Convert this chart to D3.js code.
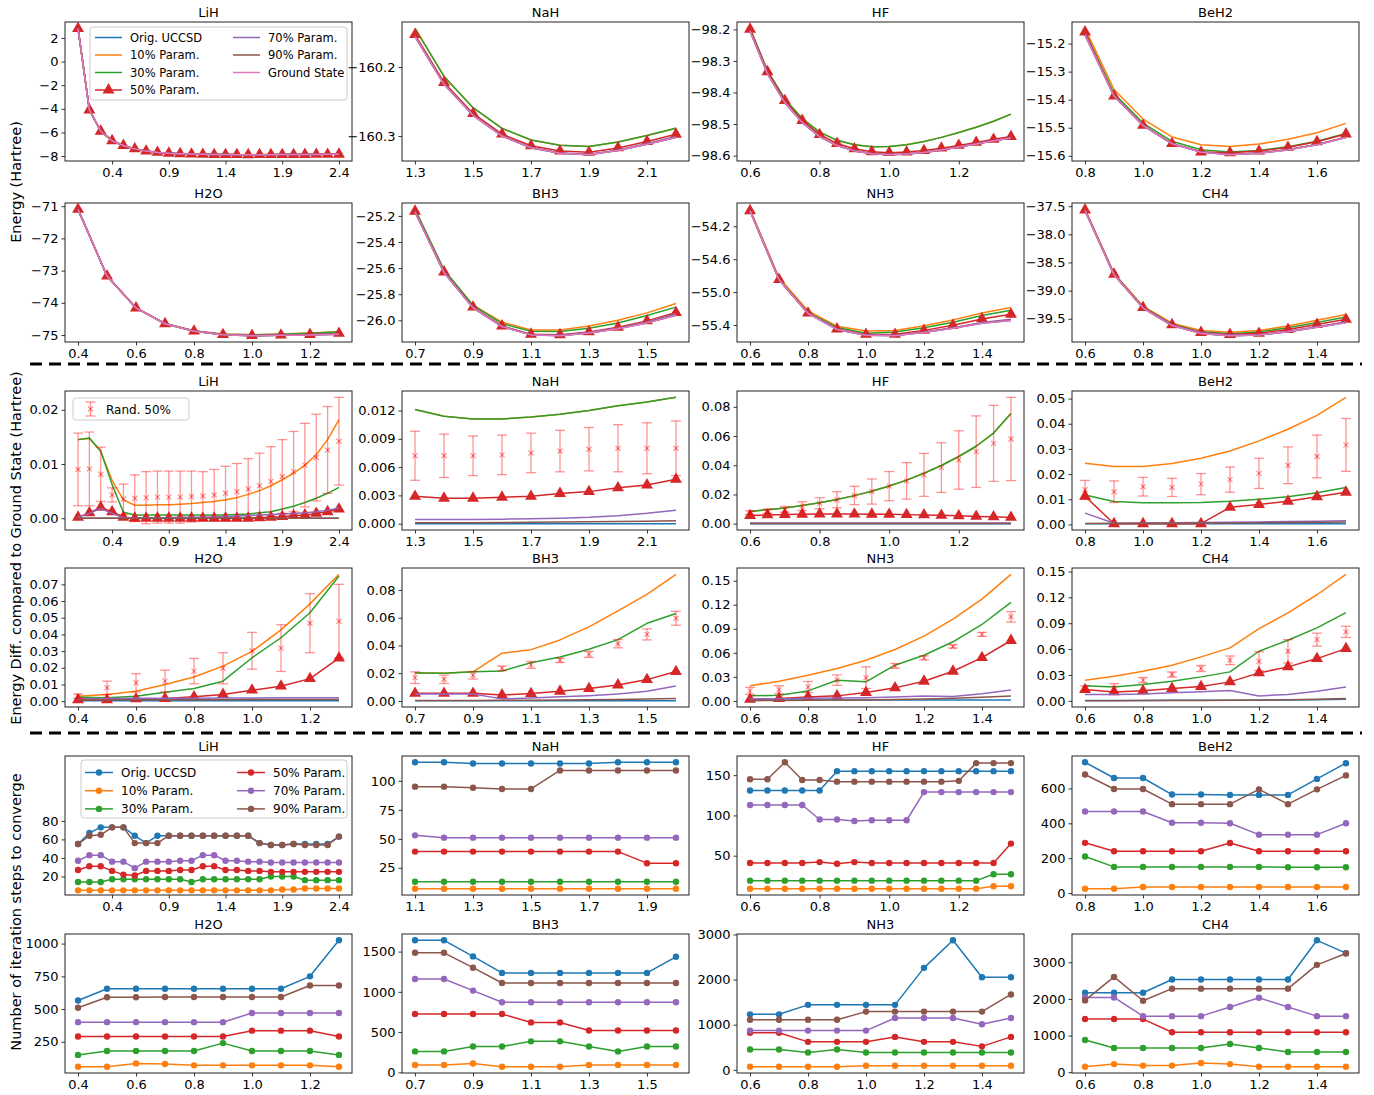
<!DOCTYPE html>
<html>
<head>
<meta charset="utf-8">
<script src="https://cdn.jsdelivr.net/npm/d3@7/dist/d3.min.js"></script>
<style>
    body { margin: 0; background: #fff; }
    text { font-family: "DejaVu Sans", sans-serif; }
</style>
</head>
<body>
<script>
// ---------------- series names / colours ----------------
var seriesNames = ["Orig. UCCSD", "10% Param.", "30% Param.", "50% Param.", "70% Param.", "90% Param."];
var seriesColors = ["#1f77b4", "#ff7f0e", "#2ca02c", "#d62728", "#9467bd", "#8c564b"];
var groundName = "Ground State";
var groundColor = "#e377c2";
var randName = "Rand. 50%";
var molNames = ["LiH", "NaH", "HF", "BeH2", "H2O", "BH3", "NH3", "CH4"];

// ---------------- LiH ----------------
var lihX = [0.1, 0.2, 0.3, 0.4, 0.5, 0.6, 0.7, 0.8, 0.9, 1.0, 1.1, 1.2, 1.3, 1.4, 1.5, 1.6, 1.7, 1.8, 1.9, 2.0, 2.1, 2.2, 2.3, 2.4];
var lihGround = [2.8, -4.1, -5.9, -6.7, -7.1, -7.39, -7.58, -7.69, -7.76, -7.8, -7.83, -7.85, -7.87, -7.875, -7.88, -7.882, -7.88, -7.878, -7.874, -7.87, -7.865, -7.86, -7.855, -7.85];
var lihDiff = [
    [0, 0, 0, 0, 0, 0, 0, 0, 0, 0, 0, 0, 0, 0, 0, 0, 0, 0, 0, 0, 0, 0, 0, 0],
    [0.0145, 0.0147, 0.0123, 0.0070, 0.0034, 0.0024, 0.0024, 0.0025, 0.0025, 0.0026, 0.0027, 0.0029, 0.0031, 0.0034, 0.0038, 0.0044, 0.0051, 0.0060, 0.0071, 0.0083, 0.0098, 0.0117, 0.0145, 0.0182],
    [0.0145, 0.0148, 0.0124, 0.0062, 0.0011, 0.0006, 0.0006, 0.0006, 0.0006, 0.0006, 0.0006, 0.0006, 0.0006, 0.0006, 0.0007, 0.0008, 0.0010, 0.0012, 0.0017, 0.0022, 0.0029, 0.0037, 0.0046, 0.0057],
    [0.0002, 0.0010, 0.0020, 0.0012, 0.0002, 0, 0, 0, 0, 0, 0, 0, 0, 0, 0, 0, 0.0001, 0.0002, 0.0003, 0.0005, 0.0006, 0.0009, 0.0012, 0.0017],
    [0.0002, 0.0009, 0.0018, 0.0009, 0.0001, 0.0001, 0.0001, 0.0001, 0.0001, 0.0002, 0.0002, 0.0002, 0.0003, 0.0003, 0.0004, 0.0005, 0.0006, 0.0007, 0.0008, 0.0009, 0.0010, 0.0012, 0.0015, 0.0019],
    [0, 0, 0, 0, 0, 0, 0, 0, 0, 0, 0, 0, 0, 0, 0, 0, 0, 0, 0, 0, 0, 0, 0, 0]
];
var lihRand = [0.0090, 0.0091, 0.0081, 0.0043, 0.0035, 0.0037, 0.0038, 0.0039, 0.0039, 0.0039, 0.0040, 0.0041, 0.0043, 0.0046, 0.0049, 0.0054, 0.0060, 0.0068, 0.0077, 0.0086, 0.0098, 0.0112, 0.0126, 0.0142];
var lihRandErr = [0.0067, 0.0068, 0.0050, 0.0013, 0.0028, 0.0043, 0.0048, 0.0048, 0.0048, 0.0048, 0.0047, 0.0045, 0.0047, 0.0050, 0.0052, 0.0056, 0.0060, 0.0064, 0.0068, 0.0074, 0.0077, 0.0080, 0.0080, 0.0081];
var lihIter = [
    [55, 67, 73, 73, 73, 64, 56, 64, 64, 64, 64, 64, 64, 64, 64, 64, 56, 54, 54, 55, 55, 55, 55, 63],
    [5, 5, 5, 5, 5, 5, 5, 5, 5, 5, 5, 5, 5, 5, 5, 5, 5, 5, 6, 6, 7, 7, 7, 7],
    [14, 14, 14, 17, 17, 17, 17, 17, 17, 17, 14, 17, 17, 17, 17, 17, 17, 20, 20, 20, 16, 16, 16, 16],
    [27, 31, 31, 26, 22, 21, 26, 26, 26, 27, 27, 31, 31, 27, 27, 26, 26, 25, 25, 25, 25, 25, 25, 25],
    [37, 43, 43, 36, 36, 29, 36, 36, 36, 37, 37, 43, 43, 37, 37, 36, 36, 35, 35, 35, 35, 35, 35, 35],
    [55, 64, 65, 73, 73, 56, 56, 56, 64, 64, 64, 64, 64, 64, 64, 64, 56, 54, 54, 55, 54, 54, 54, 63]
];

// ---------------- NaH ----------------
var nahX = [1.3, 1.4, 1.5, 1.6, 1.7, 1.8, 1.9, 2.0, 2.1, 2.2];
var nahGround = [-160.156, -160.225, -160.270, -160.300, -160.317, -160.325, -160.327, -160.321, -160.312, -160.302];
var nahDiff = [
    [0, 0, 0, 0, 0, 0, 0, 0, 0, 0],
    [0.0121, 0.0114, 0.0111, 0.0111, 0.0113, 0.0116, 0.0120, 0.0125, 0.0129, 0.0134],
    [0.0121, 0.0114, 0.0111, 0.0111, 0.0113, 0.0116, 0.0120, 0.0125, 0.0129, 0.0134],
    [0.0029, 0.0027, 0.0027, 0.0028, 0.0029, 0.0032, 0.0034, 0.0038, 0.0041, 0.0047],
    [0.00045, 0.00045, 0.00045, 0.00048, 0.00052, 0.00058, 0.00068, 0.00085, 0.0011, 0.00143],
    [0.0001, 0.0001, 0.0001, 0.00012, 0.00014, 0.00017, 0.0002, 0.00023, 0.00027, 0.0003]
];
var nahRand = [0.0072, 0.0072, 0.0072, 0.0073, 0.0075, 0.0077, 0.0079, 0.0080, 0.0080, 0.0080];
var nahRandErr = [0.0026, 0.0023, 0.0021, 0.0021, 0.0021, 0.0022, 0.0023, 0.0025, 0.0027, 0.0029];
var nahIterX = [1.1, 1.2, 1.3, 1.4, 1.5, 1.6, 1.7, 1.8, 1.9, 2.0];
var nahIter = [
    [116, 116, 115, 115, 115, 115, 115, 116, 116, 116],
    [7, 7, 7, 7, 7, 7, 7, 7, 7, 7],
    [13, 13, 13, 13, 13, 13, 13, 13, 13, 13],
    [39, 39, 39, 39, 39, 39, 39, 39, 29, 29],
    [53, 51, 51, 51, 51, 51, 51, 51, 51, 51],
    [95, 95, 94, 93, 93, 109, 109, 109, 109, 109]
];

// ---------------- HF ----------------
var hfX = [0.6, 0.65, 0.7, 0.75, 0.8, 0.85, 0.9, 0.95, 1.0, 1.05, 1.1, 1.15, 1.2, 1.25, 1.3, 1.35];
var hfGround = [-98.205, -98.340, -98.432, -98.495, -98.540, -98.568, -98.585, -98.594, -98.597, -98.595, -98.590, -98.582, -98.573, -98.563, -98.553, -98.544];
var hfDiff = [
    [0, 0, 0, 0, 0, 0, 0, 0, 0, 0, 0, 0, 0, 0, 0, 0],
    [0.0084, 0.0095, 0.0108, 0.0124, 0.0143, 0.0165, 0.0192, 0.0222, 0.0258, 0.0298, 0.0345, 0.0398, 0.0460, 0.0530, 0.0620, 0.0755],
    [0.0084, 0.0095, 0.0108, 0.0124, 0.0143, 0.0165, 0.0192, 0.0222, 0.0258, 0.0298, 0.0345, 0.0398, 0.0460, 0.0530, 0.0620, 0.0755],
    [0.0055, 0.0060, 0.0063, 0.0065, 0.0066, 0.0066, 0.0066, 0.0065, 0.0064, 0.0062, 0.0060, 0.0057, 0.0054, 0.0050, 0.0047, 0.0043],
    [0.0004, 0.0004, 0.0004, 0.0004, 0.0004, 0.0004, 0.0004, 0.0004, 0.0004, 0.0004, 0.0004, 0.0004, 0.0004, 0.0004, 0.0004, 0.0004],
    [0.0001, 0.0001, 0.0001, 0.0001, 0.0001, 0.0001, 0.0001, 0.0001, 0.0001, 0.0001, 0.0001, 0.0001, 0.0001, 0.0001, 0.0001, 0.0001]
];
var hfRand = [0.0075, 0.0085, 0.0098, 0.0120, 0.0140, 0.0164, 0.0193, 0.0220, 0.0257, 0.0293, 0.0334, 0.0384, 0.0436, 0.0493, 0.0550, 0.0580];
var hfRandErr = [0.0012, 0.0015, 0.0020, 0.0030, 0.0038, 0.0055, 0.0063, 0.0086, 0.0100, 0.0125, 0.0147, 0.0170, 0.0200, 0.0245, 0.0260, 0.0285];
var hfIter = [
    [131, 131, 131, 131, 131, 155, 155, 155, 155, 155, 155, 155, 155, 155, 155, 155],
    [9, 9, 9, 9, 9, 9, 9, 9, 9, 9, 9, 9, 9, 9, 12, 12],
    [19, 19, 19, 19, 19, 19, 19, 19, 19, 19, 19, 19, 19, 19, 27, 27],
    [41, 41, 41, 41, 42, 40, 42, 41, 41, 41, 41, 41, 41, 41, 41, 65],
    [113, 113, 113, 113, 95, 95, 93, 94, 94, 94, 129, 129, 129, 129, 129, 129],
    [145, 145, 166, 144, 144, 142, 142, 142, 142, 142, 142, 142, 143, 165, 165, 165]
];

// ---------------- BeH2 ----------------
var beh2X = [0.8, 0.9, 1.0, 1.1, 1.2, 1.3, 1.4, 1.5, 1.6, 1.7];
var beh2Ground = [-15.17, -15.387, -15.492, -15.557, -15.587, -15.596, -15.591, -15.579, -15.561, -15.535];
var beh2Diff = [
    [0.0003, 0.0003, 0.0003, 0.0003, 0.0003, 0.0003, 0.0003, 0.0003, 0.0003, 0.0003],
    [0.0243, 0.0230, 0.0230, 0.0242, 0.0263, 0.0292, 0.0332, 0.0378, 0.0433, 0.0505],
    [0.0117, 0.0091, 0.0086, 0.0086, 0.0087, 0.0092, 0.0100, 0.0110, 0.0126, 0.0147],
    [0.0112, 0.0003, 0.0003, 0.0003, 0.0003, 0.0068, 0.0079, 0.0092, 0.0110, 0.0128],
    [0.0045, 0.0005, 0.0006, 0.0007, 0.0008, 0.0009, 0.0010, 0.0012, 0.0013, 0.0015],
    [0.0004, 0.0005, 0.0005, 0.0005, 0.0006, 0.0006, 0.0007, 0.0008, 0.0009, 0.0010]
];
var beh2Rand = [0.0138, 0.0130, 0.0150, 0.0147, 0.0160, 0.0178, 0.0203, 0.0235, 0.0270, 0.0316];
var beh2RandErr = [0.0037, 0.0043, 0.0037, 0.0036, 0.0042, 0.0050, 0.0060, 0.0073, 0.0085, 0.0105];
var beh2Iter = [
    [750, 660, 660, 565, 565, 563, 563, 563, 655, 745],
    [25, 25, 35, 35, 35, 35, 35, 35, 35, 35],
    [210, 150, 150, 150, 150, 150, 150, 148, 148, 148],
    [288, 240, 240, 240, 240, 287, 240, 240, 240, 240],
    [468, 468, 468, 403, 403, 400, 335, 335, 335, 400],
    [680, 597, 597, 510, 510, 510, 595, 510, 595, 675]
];

// ---------------- H2O ----------------
var h2oX = [0.4, 0.5, 0.6, 0.7, 0.8, 0.9, 1.0, 1.1, 1.2, 1.3];
var h2oGround = [-71.1, -73.17, -74.16, -74.65, -74.88, -74.99, -75.02, -75.01, -74.995, -74.975];
var h2oDiff = [
    [0.0003, 0.0003, 0.0003, 0.0003, 0.0003, 0.0003, 0.0003, 0.0003, 0.0003, 0.0003],
    [0.0030, 0.0040, 0.0060, 0.0100, 0.0145, 0.0210, 0.0298, 0.0427, 0.0583, 0.0760],
    [0.0024, 0.0020, 0.0030, 0.0054, 0.0076, 0.0120, 0.0260, 0.0380, 0.0530, 0.0750],
    [0.0008, 0.0008, 0.0014, 0.0016, 0.0026, 0.0040, 0.0066, 0.0090, 0.0135, 0.0258],
    [0.0015, 0.0016, 0.0017, 0.0018, 0.0018, 0.0019, 0.0019, 0.0020, 0.0020, 0.0020],
    [0.0008, 0.0008, 0.0008, 0.0009, 0.0009, 0.0009, 0.0010, 0.0010, 0.0010, 0.0010]
];
var h2oRand = [0.0030, 0.0080, 0.0110, 0.0120, 0.0180, 0.0197, 0.0302, 0.0318, 0.0467, 0.0479];
var h2oRandErr = [0.0013, 0.0040, 0.0055, 0.0066, 0.0076, 0.0093, 0.0110, 0.0140, 0.0177, 0.0221];
var h2oIter = [
    [565, 655, 655, 655, 655, 655, 655, 655, 750, 1025],
    [60, 60, 85, 80, 70, 70, 70, 70, 70, 60],
    [150, 180, 180, 180, 180, 240, 180, 180, 180, 150],
    [290, 290, 290, 290, 290, 290, 335, 335, 335, 290],
    [400, 400, 400, 400, 400, 400, 470, 470, 470, 470],
    [510, 590, 590, 592, 592, 592, 592, 592, 680, 680]
];

// ---------------- BH3 ----------------
var bh3X = [0.7, 0.8, 0.9, 1.0, 1.1, 1.2, 1.3, 1.4, 1.5, 1.6];
var bh3Ground = [-25.17, -25.635, -25.905, -26.048, -26.112, -26.118, -26.098, -26.065, -26.02, -25.962];
var bh3Diff = [
    [0.0002, 0.0002, 0.0002, 0.0002, 0.0002, 0.0002, 0.0002, 0.0002, 0.0002, 0.0002],
    [0.0204, 0.0200, 0.0210, 0.0344, 0.0370, 0.0440, 0.0534, 0.0649, 0.0769, 0.0913],
    [0.0202, 0.0200, 0.0210, 0.0216, 0.0276, 0.0317, 0.0373, 0.0442, 0.0560, 0.0630],
    [0.0055, 0.0055, 0.0055, 0.0043, 0.0053, 0.0070, 0.0089, 0.0115, 0.0154, 0.0212],
    [0.0050, 0.0050, 0.0050, 0.0015, 0.0022, 0.0030, 0.0038, 0.0050, 0.0070, 0.0108],
    [0.0003, 0.0003, 0.0004, 0.0005, 0.0006, 0.0007, 0.0009, 0.0011, 0.0014, 0.0018]
];
var bh3Rand = [0.0168, 0.0156, 0.0185, 0.0235, 0.0260, 0.0293, 0.0336, 0.0413, 0.0480, 0.0596];
var bh3RandErr = [0.0042, 0.0030, 0.0027, 0.0017, 0.0025, 0.0016, 0.0022, 0.0030, 0.0040, 0.0050];
var bh3Iter = [
    [1640, 1640, 1440, 1235, 1235, 1235, 1235, 1235, 1235, 1435],
    [90, 90, 110, 70, 70, 70, 90, 90, 90, 90],
    [260, 260, 320, 320, 385, 385, 320, 260, 320, 320],
    [725, 725, 725, 725, 620, 620, 520, 520, 520, 520],
    [1160, 1160, 1015, 870, 870, 870, 870, 870, 870, 870],
    [1485, 1485, 1300, 1110, 1110, 1110, 1110, 1110, 1110, 1110]
];

// ---------------- NH3 ----------------
var nh3X = [0.6, 0.7, 0.8, 0.9, 1.0, 1.1, 1.2, 1.3, 1.4, 1.5];
var nh3Ground = [-54.012, -54.85, -55.26, -55.455, -55.525, -55.53, -55.49, -55.44, -55.38, -55.345];
var nh3Diff = [
    [0.0010, 0.0010, 0.0010, 0.0010, 0.0010, 0.0010, 0.0010, 0.0010, 0.0010, 0.0010],
    [0.0188, 0.0246, 0.0320, 0.0404, 0.0508, 0.0642, 0.0808, 0.1020, 0.1270, 0.1580],
    [0.0063, 0.0070, 0.0125, 0.0258, 0.0238, 0.0446, 0.0570, 0.0738, 0.0954, 0.1230],
    [0.0020, 0.0030, 0.0050, 0.0063, 0.0104, 0.0163, 0.0246, 0.0370, 0.0540, 0.0754],
    [0.0025, 0.0028, 0.0032, 0.0036, 0.0041, 0.0048, 0.0060, 0.0055, 0.0090, 0.0135],
    [0.0003, 0.0005, 0.0007, 0.0010, 0.0013, 0.0018, 0.0024, 0.0033, 0.0045, 0.0060]
];
var nh3Rand = [0.0125, 0.0140, 0.0175, 0.0260, 0.0290, 0.0437, 0.0537, 0.0680, 0.0830, 0.1050];
var nh3RandErr = [0.0045, 0.0050, 0.0068, 0.0065, 0.0135, 0.0030, 0.0025, 0.0020, 0.0025, 0.0065];
var nh3Iter = [
    [1230, 1230, 1440, 1440, 1440, 1440, 2260, 2870, 2050, 2050],
    [70, 70, 70, 70, 90, 90, 90, 90, 90, 90],
    [450, 450, 385, 450, 385, 385, 385, 385, 385, 385],
    [820, 820, 620, 620, 620, 730, 620, 620, 520, 730],
    [870, 870, 870, 870, 870, 1150, 1150, 1150, 1010, 1150],
    [1110, 1110, 1110, 1110, 1290, 1290, 1290, 1290, 1290, 1670]
];

// ---------------- CH4 ----------------
var ch4X = [0.6, 0.7, 0.8, 0.9, 1.0, 1.1, 1.2, 1.3, 1.4, 1.5];
var ch4Ground = [-37.58, -38.72, -39.31, -39.62, -39.76, -39.80, -39.79, -39.73, -39.65, -39.57];
var ch4Diff = [
    [0.0005, 0.0005, 0.0005, 0.0006, 0.0007, 0.0008, 0.0009, 0.0011, 0.0014, 0.0020],
    [0.0240, 0.0286, 0.0344, 0.0413, 0.0510, 0.0614, 0.0838, 0.1020, 0.1230, 0.1467],
    [0.0174, 0.0162, 0.0190, 0.0228, 0.0278, 0.0336, 0.0575, 0.0703, 0.0846, 0.1023],
    [0.0131, 0.0104, 0.0116, 0.0143, 0.0166, 0.0220, 0.0324, 0.0394, 0.0490, 0.0606],
    [0.0075, 0.0075, 0.0080, 0.0095, 0.0105, 0.0120, 0.0057, 0.0075, 0.0110, 0.0160],
    [0.0002, 0.0002, 0.0003, 0.0004, 0.0005, 0.0006, 0.0008, 0.0012, 0.0018, 0.0028]
];
var ch4Rand = [0.0143, 0.0150, 0.0240, 0.0305, 0.0375, 0.0470, 0.0460, 0.0575, 0.0710, 0.0800];
var ch4RandErr = [0.0030, 0.0050, 0.0030, 0.0030, 0.0035, 0.0050, 0.0110, 0.0135, 0.0075, 0.0065];
var ch4Iter = [
    [2170, 2170, 2170, 2530, 2530, 2530, 2530, 2530, 3600, 3250],
    [150, 220, 180, 180, 250, 220, 150, 150, 150, 150],
    [880, 660, 660, 660, 660, 770, 660, 550, 550, 550],
    [1450, 1450, 1450, 1090, 1090, 1090, 1090, 1090, 1090, 1090],
    [2040, 2040, 1530, 1530, 1530, 1780, 2030, 1780, 1530, 1530],
    [1960, 2600, 1950, 2280, 2280, 2280, 2280, 2280, 2930, 3240]
];

// ---------------- tick labels ----------------
var xTicksLiH = [0.4, 0.9, 1.4, 1.9, 2.4];
var xTicksNaH = [1.3, 1.5, 1.7, 1.9, 2.1];
var xTicksNaHIter = [1.1, 1.3, 1.5, 1.7, 1.9];
var xTicksHF = [0.6, 0.8, 1.0, 1.2];
var xTicksBeH2 = [0.8, 1.0, 1.2, 1.4, 1.6];
var xTicksH2O = [0.4, 0.6, 0.8, 1.0, 1.2];
var xTicksBH3 = [0.7, 0.9, 1.1, 1.3, 1.5];
var xTicksNH3 = [0.6, 0.8, 1.0, 1.2, 1.4];
var xTicksCH4 = [0.6, 0.8, 1.0, 1.2, 1.4];

var energyTicks = [
    [-8, -6, -4, -2, 0, 2],
    [-160.3, -160.2],
    [-98.6, -98.5, -98.4, -98.3, -98.2],
    [-15.6, -15.5, -15.4, -15.3, -15.2],
    [-75, -74, -73, -72, -71],
    [-26.0, -25.8, -25.6, -25.4, -25.2],
    [-55.4, -55.0, -54.6, -54.2],
    [-39.5, -39.0, -38.5, -38.0, -37.5]
];
var energyFormats = ["d", ".1f", ".1f", ".1f", "d", ".1f", ".1f", ".1f"];
var diffTicks = [
    [0, 0.01, 0.02],
    [0, 0.003, 0.006, 0.009, 0.012],
    [0, 0.02, 0.04, 0.06, 0.08],
    [0, 0.01, 0.02, 0.03, 0.04, 0.05],
    [0, 0.01, 0.02, 0.03, 0.04, 0.05, 0.06, 0.07],
    [0, 0.02, 0.04, 0.06, 0.08],
    [0, 0.03, 0.06, 0.09, 0.12, 0.15],
    [0, 0.03, 0.06, 0.09, 0.12, 0.15]
];
var diffFormats = [".2f", ".3f", ".2f", ".2f", ".2f", ".2f", ".2f", ".2f"];
var iterTicks = [
    [20, 40, 60, 80],
    [25, 50, 75, 100],
    [50, 100, 150],
    [0, 200, 400, 600],
    [250, 500, 750, 1000],
    [0, 500, 1000, 1500],
    [0, 1000, 2000, 3000],
    [0, 1000, 2000, 3000]
];
var lihIterLimits = [0, 150];

// ---------------- layout ----------------
var width = 1374, height = 1095;
var colLeft = [65, 402, 737, 1072];
var rowTop = [22, 203, 391, 568, 756, 934];
var panelW = 287, panelH = 139;
var fontFamily = "DejaVu Sans, sans-serif";

var svg = d3.select("body").append("svg")
    .attr("width", width)
    .attr("height", height);

svg.append("rect").attr("width", width).attr("height", height).attr("fill", "#fff");

// bundle the arrays per molecule
var mols = [
    { x: lihX, ground: lihGround, diff: lihDiff, rand: lihRand, err: lihRandErr, iterX: lihX, iter: lihIter, xt: xTicksLiH, ixt: xTicksLiH },
    { x: nahX, ground: nahGround, diff: nahDiff, rand: nahRand, err: nahRandErr, iterX: nahIterX, iter: nahIter, xt: xTicksNaH, ixt: xTicksNaHIter },
    { x: hfX, ground: hfGround, diff: hfDiff, rand: hfRand, err: hfRandErr, iterX: hfX, iter: hfIter, xt: xTicksHF, ixt: xTicksHF },
    { x: beh2X, ground: beh2Ground, diff: beh2Diff, rand: beh2Rand, err: beh2RandErr, iterX: beh2X, iter: beh2Iter, xt: xTicksBeH2, ixt: xTicksBeH2 },
    { x: h2oX, ground: h2oGround, diff: h2oDiff, rand: h2oRand, err: h2oRandErr, iterX: h2oX, iter: h2oIter, xt: xTicksH2O, ixt: xTicksH2O },
    { x: bh3X, ground: bh3Ground, diff: bh3Diff, rand: bh3Rand, err: bh3RandErr, iterX: bh3X, iter: bh3Iter, xt: xTicksBH3, ixt: xTicksBH3 },
    { x: nh3X, ground: nh3Ground, diff: nh3Diff, rand: nh3Rand, err: nh3RandErr, iterX: nh3X, iter: nh3Iter, xt: xTicksNH3, ixt: xTicksNH3 },
    { x: ch4X, ground: ch4Ground, diff: ch4Diff, rand: ch4Rand, err: ch4RandErr, iterX: ch4X, iter: ch4Iter, xt: xTicksCH4, ixt: xTicksCH4 }
];

// matplotlib style 5% margins
function padExtent(ext) {
    var d = (ext[1] - ext[0]) * 0.05;
    return [ext[0] - d, ext[1] + d];
}

var triangle = d3.symbol().type(d3.symbolTriangle).size(62)();
var clipCount = 0;

function drawPanel(p) {
    var g = svg.append("g")
        .attr("transform", "translate(" + p.left + "," + p.top + ")");

    var x = d3.scaleLinear()
        .domain(padExtent(d3.extent(p.xs)))
        .range([0, panelW]);

    var yVals = [];
    p.lines.forEach(function (l) { yVals = yVals.concat(l.ys); });
    if (p.bars) {
        p.bars.ys.forEach(function (v, i) {
            yVals.push(v - p.bars.err[i], v + p.bars.err[i]);
        });
    }
    var y = d3.scaleLinear()
        .domain(p.yDomain || padExtent(d3.extent(yVals)))
        .range([panelH, 0]);

    var clipId = "clip" + (clipCount++);
    g.append("clipPath").attr("id", clipId)
        .append("rect").attr("width", panelW).attr("height", panelH);
    var plot = g.append("g").attr("clip-path", "url(#" + clipId + ")");

    var line = d3.line()
        .x(function (d, i) { return x(p.xs[i]); })
        .y(function (d) { return y(d); });

    p.lines.forEach(function (l) {
        plot.append("path")
            .datum(l.ys)
            .attr("fill", "none")
            .attr("stroke", l.color)
            .attr("stroke-width", l.width || 1.5)
            .attr("stroke-linejoin", "round")
            .attr("d", line);
        if (l.marker === "tri") {
            plot.selectAll(null).data(l.ys).enter().append("path")
                .attr("transform", function (d, i) { return "translate(" + x(p.xs[i]) + "," + y(d) + ")"; })
                .attr("d", triangle)
                .attr("fill", l.color);
        } else if (l.marker === "dot") {
            plot.selectAll(null).data(l.ys).enter().append("circle")
                .attr("cx", function (d, i) { return x(p.xs[i]); })
                .attr("cy", function (d) { return y(d); })
                .attr("r", 3.2)
                .attr("fill", l.color);
        }
    });

    // random 50% error bars
    if (p.bars) {
        var eb = plot.append("g")
            .attr("stroke", "#ff0000")
            .attr("stroke-opacity", 0.42)
            .attr("stroke-width", 1.3);
        p.bars.ys.forEach(function (v, i) {
            var cx = x(p.xs[i]), lo = y(v - p.bars.err[i]), hi = y(v + p.bars.err[i]), cy = y(v);
            eb.append("line").attr("x1", cx).attr("x2", cx).attr("y1", lo).attr("y2", hi);
            eb.append("line").attr("x1", cx - 5).attr("x2", cx + 5).attr("y1", lo).attr("y2", lo);
            eb.append("line").attr("x1", cx - 5).attr("x2", cx + 5).attr("y1", hi).attr("y2", hi);
            eb.append("line").attr("x1", cx - 2.5).attr("x2", cx + 2.5).attr("y1", cy - 2.5).attr("y2", cy + 2.5);
            eb.append("line").attr("x1", cx - 2.5).attr("x2", cx + 2.5).attr("y1", cy + 2.5).attr("y2", cy - 2.5);
        });
    }

    // axes
    var xAxis = d3.axisBottom(x)
        .tickValues(p.xTicks)
        .tickFormat(d3.format(".1f"))
        .tickSizeInner(3.5).tickSizeOuter(0).tickPadding(3);
    var xg = g.append("g")
        .attr("transform", "translate(0," + panelH + ")")
        .call(xAxis);

    var yAxis = d3.axisLeft(y)
        .tickValues(p.yTicks)
        .tickFormat(d3.format(p.yFmt))
        .tickSizeInner(3.5).tickSizeOuter(0).tickPadding(3);
    var yg = g.append("g").call(yAxis);

    [xg, yg].forEach(function (a) {
        a.select(".domain").remove();
        a.attr("font-size", 13).attr("font-family", fontFamily);
        a.selectAll(".tick line").attr("stroke", "#000").attr("stroke-width", 0.8);
        a.selectAll(".tick text").attr("fill", "#000");
    });

    // frame
    g.append("rect")
        .attr("width", panelW).attr("height", panelH)
        .attr("fill", "none")
        .attr("stroke", "#222")
        .attr("stroke-width", 1);

    g.append("text")
        .attr("x", panelW / 2).attr("y", -5)
        .attr("text-anchor", "middle")
        .attr("font-size", 13)
        .text(p.title);

    return g;
}

function legendBox(g, bx, by, bw, bh) {
    g.append("rect")
        .attr("x", bx).attr("y", by).attr("width", bw).attr("height", bh)
        .attr("rx", 3)
        .attr("fill", "#fff").attr("fill-opacity", 0.85)
        .attr("stroke", "#ccc").attr("stroke-width", 1);
}

// ---------------- draw the three sections ----------------
var panels = { energy: [], diff: [], iter: [] };

mols.forEach(function (m, i) {
    var col = i % 4, r = Math.floor(i / 4);

    // energy: ground state + difference of every variant
    var eLines = m.diff.map(function (dv, k) {
        return {
            ys: m.ground.map(function (gv, j) { return gv + dv[j]; }),
            color: seriesColors[k],
            marker: k === 3 ? "tri" : null
        };
    });
    eLines.push({ ys: m.ground, color: groundColor });
    panels.energy.push(drawPanel({
        left: colLeft[col], top: rowTop[r], title: molNames[i],
        xs: m.x, lines: eLines, xTicks: m.xt,
        yTicks: energyTicks[i], yFmt: energyFormats[i]
    }));

    // difference to ground state
    var dLines = m.diff.map(function (dv, k) {
        return { ys: dv, color: seriesColors[k], marker: k === 3 ? "tri" : null };
    });
    panels.diff.push(drawPanel({
        left: colLeft[col], top: rowTop[2 + r], title: molNames[i],
        xs: m.x, lines: dLines, bars: { ys: m.rand, err: m.err }, xTicks: m.xt,
        yTicks: diffTicks[i], yFmt: diffFormats[i]
    }));

    // iterations
    var iLines = m.iter.map(function (iv, k) {
        return { ys: iv, color: seriesColors[k], marker: "dot" };
    });
    panels.iter.push(drawPanel({
        left: colLeft[col], top: rowTop[4 + r], title: molNames[i],
        xs: m.iterX, lines: iLines, xTicks: m.ixt,
        yTicks: iterTicks[i], yFmt: "d",
        yDomain: i === 0 ? lihIterLimits : null
    }));
});

// ---------------- legends ----------------
// energy legend (LiH energy panel)
(function () {
    var g = panels.energy[0];
    legendBox(g, 25, 5, 257, 73);
    var items = seriesNames.concat([groundName]);
    var colors = seriesColors.concat([groundColor]);
    items.forEach(function (name, k) {
        var c = k < 4 ? 0 : 1, row = k < 4 ? k : k - 4;
        var hx = c === 0 ? 30 : 168, ty = 15.5 + row * 17.5;
        g.append("line").attr("x1", hx).attr("x2", hx + 27).attr("y1", ty).attr("y2", ty)
            .attr("stroke", colors[k]).attr("stroke-width", 1.5);
        if (k === 3) {
            g.append("path").attr("d", triangle)
                .attr("transform", "translate(" + (hx + 13.5) + "," + ty + ")")
                .attr("fill", colors[k]);
        }
        g.append("text").attr("x", hx + 35).attr("y", ty + 4)
            .attr("font-size", 11.5).text(name);
    });
})();

// rand legend (LiH diff panel)
(function () {
    var g = panels.diff[0];
    legendBox(g, 8, 7, 116, 22);
    var cx = 25.5, cy = 18;
    var eb = g.append("g").attr("stroke", "#ff0000").attr("stroke-opacity", 0.42).attr("stroke-width", 1.3);
    eb.append("line").attr("x1", cx).attr("x2", cx).attr("y1", cy - 7).attr("y2", cy + 7);
    eb.append("line").attr("x1", cx - 5).attr("x2", cx + 5).attr("y1", cy - 7).attr("y2", cy - 7);
    eb.append("line").attr("x1", cx - 5).attr("x2", cx + 5).attr("y1", cy + 7).attr("y2", cy + 7);
    eb.append("line").attr("x1", cx - 2.5).attr("x2", cx + 2.5).attr("y1", cy - 2.5).attr("y2", cy + 2.5);
    eb.append("line").attr("x1", cx - 2.5).attr("x2", cx + 2.5).attr("y1", cy + 2.5).attr("y2", cy - 2.5);
    g.append("text").attr("x", 41).attr("y", cy + 4.5).attr("font-size", 12).text(randName);
})();

// iteration legend (LiH iteration panel)
(function () {
    var g = panels.iter[0];
    legendBox(g, 16, 4, 266, 58);
    seriesNames.forEach(function (name, k) {
        var c = Math.floor(k / 3), row = k % 3;
        var hx = c === 0 ? 20 : 172, ty = 16.5 + row * 18.2;
        g.append("line").attr("x1", hx).attr("x2", hx + 28).attr("y1", ty).attr("y2", ty)
            .attr("stroke", seriesColors[k]).attr("stroke-width", 1.5);
        g.append("circle").attr("cx", hx + 14).attr("cy", ty).attr("r", 3.2).attr("fill", seriesColors[k]);
        g.append("text").attr("x", hx + 36).attr("y", ty + 4.5)
            .attr("font-size", 12).text(name);
    });
})();

// ---------------- section separators and axis labels ----------------
[364, 733].forEach(function (yy) {
    svg.append("line")
        .attr("x1", 30).attr("x2", 1362).attr("y1", yy).attr("y2", yy)
        .attr("stroke", "#000").attr("stroke-width", 3)
        .attr("stroke-dasharray", "12,7");
});

var axisLabels = [
    { text: "Energy (Hartree)", y: 182 },
    { text: "Energy Diff. compared to Ground State (Hartree)", y: 548 },
    { text: "Number of iteration steps to converge", y: 912 }
];
axisLabels.forEach(function (a) {
    svg.append("text")
        .attr("transform", "translate(21," + a.y + ") rotate(-90)")
        .attr("text-anchor", "middle")
        .attr("font-size", 14.5)
        .text(a.text);
});
</script>
</body>
</html>
